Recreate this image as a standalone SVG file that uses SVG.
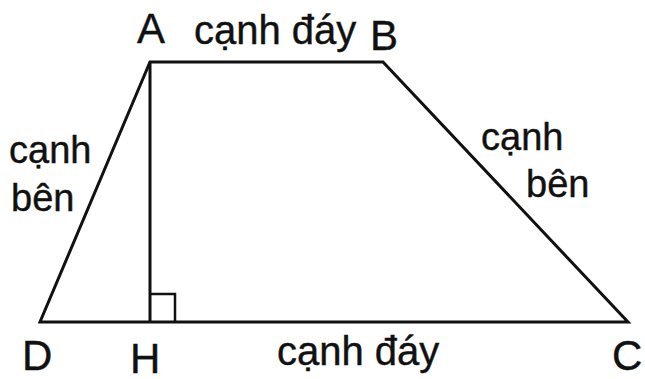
<svg xmlns="http://www.w3.org/2000/svg" width="645" height="379" viewBox="0 0 645 379">
<style>
.ln{stroke:#111;stroke-width:3;fill:none;stroke-linejoin:miter}
.thin{stroke:#111;stroke-width:2.5;fill:none}
.lbl{font-family:"Liberation Sans",Arial,sans-serif;font-size:38px;fill:#111;stroke:#111;stroke-width:0.4}
.base{font-size:40px}
.pt{font-family:"Liberation Sans",Arial,sans-serif;font-size:42px;fill:#111;stroke:#111;stroke-width:0.4}
</style>
<rect width="645" height="379" fill="#fff"/>
<g id="connectors">
<polygon class="ln" points="150,62 383,62 628,322 40,322"/>
<line class="ln" x1="150" y1="62" x2="150" y2="322"/>
<polyline class="thin" points="150,294 175,294 175,322"/>
</g>
<g id="A"><text class="pt" x="137" y="43">A</text></g>
<g id="B"><text class="pt" x="370" y="50">B</text></g>
<g id="C"><text class="pt" x="612" y="370">C</text></g>
<g id="D"><text class="pt" x="22" y="370">D</text></g>
<g id="H"><text class="pt" x="130" y="373">H</text></g>
<g id="labels">
<text class="lbl base" x="194" y="44">cạnh đáy</text>
<text class="lbl base" x="277" y="365">cạnh đáy</text>
<text class="lbl" x="9" y="163">cạnh</text>
<text class="lbl" x="11" y="211">bên</text>
<text class="lbl" x="481" y="150">cạnh</text>
<text class="lbl" x="526" y="197">bên</text>
</g>
</svg>
